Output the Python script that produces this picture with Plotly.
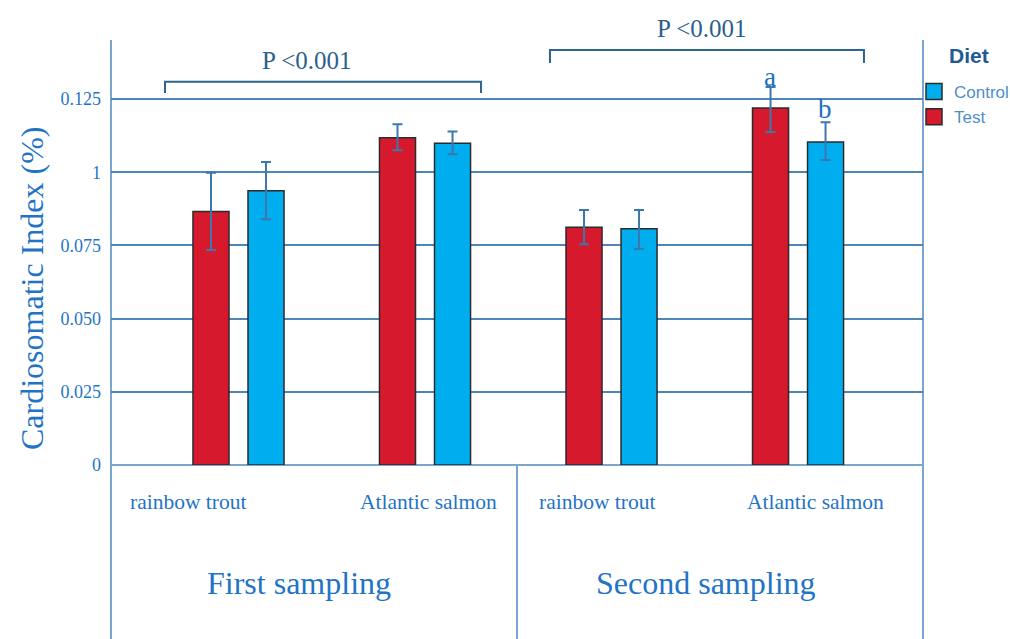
import plotly.graph_objects as go

# ---- data ----
positions = [0, 1, 2, 3]  # rainbow trout / Atlantic salmon in first and second sampling
species_labels = ["rainbow trout", "Atlantic salmon", "rainbow trout", "Atlantic salmon"]
sampling_labels = ["First sampling", "Second sampling"]

test_mean = [0.0866, 0.1118, 0.0812, 0.1219]
test_err_plus = [0.0132, 0.0046, 0.0059, 0.0072]
test_err_minus = [0.0132, 0.0043, 0.0058, 0.0082]

control_mean = [0.0937, 0.1099, 0.0807, 0.1103]
control_err_plus = [0.0098, 0.0040, 0.0064, 0.0068]
control_err_minus = [0.0098, 0.0038, 0.0069, 0.0061]

ytick_vals = [0, 0.025, 0.05, 0.075, 0.1, 0.125]
ytick_text = ["0", "0.025", "0.050", "0.075", "1", "0.125"]

SERIF = "Liberation Serif, Times New Roman, serif"
SANS = "Liberation Sans, Arial, sans-serif"
BLUE_TXT = "#1f74c6"
GRID = "#4d86b9"
FRAME = "#7aa5cc"
ERR = "#3b78ad"
BRACKET = "#2c6690"
RED = "#d7192e"
CYAN = "#00aeef"
EDGE = "#2b2b2b"

fig = go.Figure()

fig.add_trace(go.Bar(
    x=positions, y=test_mean, name="Test", showlegend=False,
    marker=dict(color=RED, line=dict(color=EDGE, width=1.5)),
    error_y=dict(type="data", symmetric=False, array=test_err_plus,
                 arrayminus=test_err_minus, color=ERR, thickness=2, width=5),
))
fig.add_trace(go.Bar(
    x=positions, y=control_mean, name="Control", showlegend=False,
    marker=dict(color=CYAN, line=dict(color=EDGE, width=1.5)),
    error_y=dict(type="data", symmetric=False, array=control_err_plus,
                 arrayminus=control_err_minus, color=ERR, thickness=2, width=5),
))
# legend entries (larger square swatches)
for nm, col in [("Control", CYAN), ("Test", RED)]:
    fig.add_trace(go.Scatter(
        x=[None], y=[None], mode="markers", name=nm,
        marker=dict(symbol="square", size=16, color=col, line=dict(color=EDGE, width=1.5)),
    ))

BOT = -174 / 425  # bottom of the label box in paper coords

shapes = [
    # frame lines
    dict(type="line", xref="paper", yref="paper", x0=0, x1=0, y0=BOT, y1=1,
         line=dict(color=FRAME, width=2), layer="below"),
    dict(type="line", xref="paper", yref="paper", x0=1, x1=1, y0=BOT, y1=1,
         line=dict(color=FRAME, width=2), layer="below"),
    dict(type="line", xref="paper", yref="paper", x0=0, x1=1, y0=0, y1=0,
         line=dict(color=FRAME, width=2), layer="below"),
    dict(type="line", xref="paper", yref="paper", x0=0.5, x1=0.5, y0=BOT, y1=0,
         line=dict(color=FRAME, width=2), layer="below"),
    # bracket 1
    dict(type="path", xref="paper", yref="paper",
         path="M 0.0665 0.8753 L 0.0665 0.9019 L 0.4557 0.9019 L 0.4557 0.8753",
         line=dict(color=BRACKET, width=2)),
    # bracket 2
    dict(type="path", xref="paper", yref="paper",
         path="M 0.5406 0.9459 L 0.5406 0.9765 L 0.9273 0.9765 L 0.9273 0.9459",
         line=dict(color=BRACKET, width=2)),
]

annotations = []
# y-axis title
annotations.append(dict(text="Cardiosomatic Index (%)", xref="paper", yref="paper",
                        x=-0.0973, y=0.4165, textangle=-90, showarrow=False,
                        font=dict(family=SERIF, size=32, color=BLUE_TXT),
                        xanchor="center", yanchor="middle"))
# species labels
for lab, xp in zip(species_labels, [0.0954, 0.3908, 0.598, 0.867]):
    annotations.append(dict(text=lab, xref="paper", yref="paper", x=xp, y=-0.0864,
                            showarrow=False, xanchor="center", yanchor="middle",
                            font=dict(family=SERIF, size=21.5, color=BLUE_TXT)))
# sampling labels
for lab, xp in zip(sampling_labels, [0.232, 0.733]):
    annotations.append(dict(text=lab, xref="paper", yref="paper", x=xp, y=-0.2776,
                            showarrow=False, xanchor="center", yanchor="middle",
                            font=dict(family=SERIF, size=32, color=BLUE_TXT)))
# P values
for xp, yp in [(0.2414, 0.9513), (0.7278, 1.0282)]:
    annotations.append(dict(text="P &lt;0.001", xref="paper", yref="paper", x=xp, y=yp,
                            showarrow=False, xanchor="center", yanchor="middle",
                            font=dict(family=SERIF, size=25, color="#2d5f8c")))
# significance letters
for lab, xp, yp in [("a", 0.8116, 0.913), ("b", 0.8793, 0.8375)]:
    annotations.append(dict(text=lab, xref="paper", yref="paper", x=xp, y=yp,
                            showarrow=False, xanchor="center", yanchor="middle",
                            font=dict(family=SERIF, size=27, color="#1a6fc0")))
# legend title
annotations.append(dict(text="<b>Diet</b>", xref="paper", yref="paper",
                        x=(968.5 - 111) / 812, y=(465 - 56) / 425,
                        showarrow=False, xanchor="center", yanchor="middle",
                        font=dict(family=SANS, size=21, color="#1f5a96")))

fig.update_layout(
    width=1010, height=639, autosize=False,
    margin=dict(l=111, r=87, t=40, b=174, pad=0, autoexpand=False),
    paper_bgcolor="white", plot_bgcolor="white",
    barmode="group", bargap=0.41, bargroupgap=0.345,
    showlegend=True,
    legend=dict(x=(914 - 111) / 812, y=(465 - 74) / 425, xanchor="left", yanchor="top",
                bgcolor="rgba(0,0,0,0)", borderwidth=0,
                font=dict(family=SANS, size=17, color="#4f8ec6"),
                tracegroupgap=0, itemwidth=30),
    xaxis=dict(range=[-0.6836, 3.670], showticklabels=False, showgrid=False,
               zeroline=False, showline=False, ticks=""),
    yaxis=dict(range=[0, 0.14515], tickvals=ytick_vals, ticktext=ytick_text,
               showgrid=True, gridcolor=GRID, gridwidth=2, zeroline=False,
               showline=False, ticks="", ticklabelstandoff=9,
               tickfont=dict(family=SERIF, size=18, color=BLUE_TXT)),
    shapes=shapes, annotations=annotations,
)

fig.write_html("out.html")
